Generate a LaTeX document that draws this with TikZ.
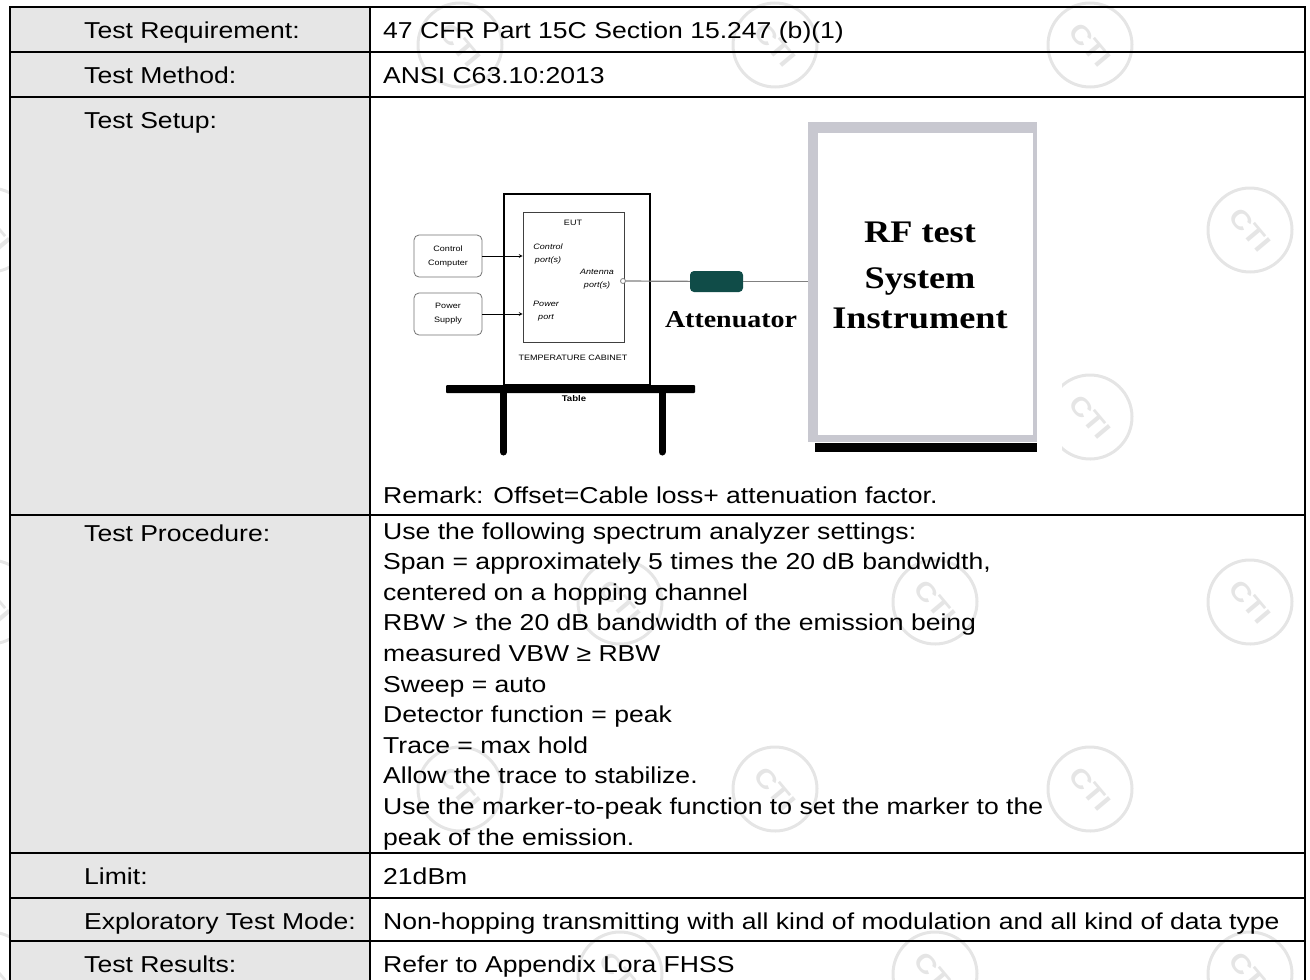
\documentclass[tikz,border=0pt]{standalone}
\usepackage{fontspec}
\setmainfont{Liberation Sans}[FakeStretch=1.155]
\newfontfamily\rffont{Liberation Serif}[FakeStretch=1.155]
\usetikzlibrary{arrows, positioning}
\definecolor{cellgrey}{RGB}{230,230,230}
\definecolor{framegrey}{RGB}{200,200,208}
\definecolor{atteal}{RGB}{16,76,72}
\definecolor{wiregrey}{RGB}{128,128,128}
\tikzstyle{rowtext} = [anchor=base west, inner sep=0pt, font=\fontsize{23}{30.6}\selectfont]
\tikzstyle{smalltext} = [inner sep=0pt, align=center, font=\fontsize{7.8}{13}\selectfont]
\tikzstyle{porttext} = [inner sep=0pt, align=center, font=\fontsize{7.8}{13}\selectfont\itshape]
\tikzstyle{unitbox} = [rectangle, rounded corners=5pt, draw=black!55, line width=0.8pt, minimum width=68pt, minimum height=42pt, inner sep=0pt, align=center, font=\fontsize{7.8}{14}\selectfont]
\tikzstyle{bigtext} = [anchor=base, inner sep=0pt, font=\rffont\bfseries\fontsize{31.4}{40}\selectfont]
\tikzstyle{watermark} = [circle, draw=black, draw opacity=0.1, text opacity=0.1, line width=3pt, minimum size=84pt, inner sep=0pt, rotate=-50, font=\bfseries\fontsize{26}{26}\selectfont]
\tikzstyle{arrow} = [line width=0.7pt,->,>=stealth]
\tikzstyle{wire} = [draw=wiregrey, line width=1.2pt]
\tikzstyle{gridline} = [line width=1.3pt]

\begin{document}
\begin{tikzpicture}[x=1pt, y=-1pt]
    \useasboundingbox (0,0) rectangle (1310,980);
    % CTI marks behind the page
    \foreach \x/\y [count=\i] in {460/45, 775/45, 1090/45, -10/230, 1250/230, 1090/417,
        -10/602, 620/602, 935/602, 1250/602, 460/789, 775/789, 1090/789,
        -10/974, 620/974, 935/974, 1250/974}
        \node (wm\i) [watermark] at (\x,\y) {CTI};
    \fill[cellgrey] (10,7) rectangle (370,980);
    \fill[white] (395,99) rectangle (1062,470);

    % table grid
    \draw[gridline] (10,980) -- (10,7) -- (1305,7) -- (1305,980);
    \draw[gridline] (370,7) -- (370,980);
    \foreach \y in {52,97,515,853,898,941}
        \draw[gridline] (10,\y) -- (1305,\y);

    \node (lreq) [rowtext] at (84,38) {Test Requirement:};
    \node (lmethod) [rowtext] at (84,83) {Test Method:};
    \node (lsetup) [rowtext] at (84,128) {Test Setup:};
    \node (lproc) [rowtext] at (84,541) {Test Procedure:};
    \node (llimit) [rowtext] at (84,884) {Limit:};
    \node (lmode) [rowtext] at (84,929) {Exploratory Test Mode:};
    \node (lresult) [rowtext] at (84,972) {Test Results:};

    \node (req) [rowtext] at (383,38) {47 CFR Part 15C Section 15.247 (b)(1)};
    \node (method) [rowtext] at (383,83) {ANSI C63.10:2013};
    \node (remark) [rowtext] at (383,503) {Remark: Offset=Cable loss+ attenuation factor.};
    \foreach \txt [count=\i from 0] in {Use the following spectrum analyzer settings:,
        {Span = approximately 5 times the 20 dB bandwidth,},
        centered on a hopping channel,
        RBW > the 20 dB bandwidth of the emission being,
        measured VBW ≥ RBW,
        Sweep = auto,
        Detector function = peak,
        Trace = max hold,
        Allow the trace to stabilize.,
        Use the marker-to-peak function to set the marker to the,
        peak of the emission.}
        \node (proc\i) [rowtext] at (383,539+30.6*\i) {\txt};
    \node (limit) [rowtext] at (383,884) {21dBm};
    \node (mode) [rowtext] at (383,929) {Non-hopping transmitting with all kind of modulation and all kind of data type};
    \node (result) [rowtext] at (383,972) {Refer to Appendix Lora FHSS};

    % test setup
    \fill[rounded corners=1pt] (446,385) rectangle (695,393);
    \draw[line width=7pt, line cap=round] (503.5,390) -- (503.5,452);
    \draw[line width=7pt, line cap=round] (662,390) -- (662,452);
    \node (tablelabel) [smalltext, font=\fontsize{8.3}{10}\selectfont\bfseries] at (574,399) {Table};

    \node (cabinet) [draw, line width=2.4pt, minimum width=146pt, minimum height=191pt, inner sep=0pt] at (577,289.5) {};
    \node (eut) [draw=black!75, line width=0.8pt, minimum width=101pt, minimum height=130pt, inner sep=0pt] at (573.5,277) {};
    \node (eutlabel) [smalltext] at (573,223) {EUT};
    \node (ctrlport) [porttext] at (548,253.5) {Control\\port(s)};
    \node (antlabel) [porttext] at (597,279.5) {Antenna\\port(s)};
    \node (pwrport) [porttext] at (546,311) {Power\\port};
    \node (cablabel) [smalltext] at (573,358) {TEMPERATURE CABINET};

    \node (ctrlpc) [unitbox] at (448,256) {Control\\Computer};
    \node (psu) [unitbox] at (448,314) {Power\\Supply};
    \draw [arrow] (ctrlpc) -- (ctrlpc -| eut.west);
    \draw [arrow] (psu) -- (psu -| eut.west);

    \node (rfsys) [rectangle, fill=framegrey, minimum width=229pt, minimum height=320pt, inner sep=0pt] at (922.5,282) {};
    \fill[white] (818,133) rectangle (1033,435);
    \fill (815,443) rectangle (1037,452);

    \node (antport) [circle, draw=wiregrey, fill=white, line width=0.8pt, minimum size=5pt, inner sep=0pt] at (623,281) {};
    \node (atten) [rectangle, rounded corners=4pt, fill=atteal, minimum width=53pt, minimum height=21pt, inner sep=0pt] at (716.5,281.5) {};
    \draw [wire] (antport) -- (atten);
    \draw [wire] (atten) -- (rfsys.west |- atten);

    \node (attlabel) [bigtext, font=\rffont\bfseries\fontsize{24.2}{30}\selectfont] at (731,327) {Attenuator};
    \node (rfline1) [bigtext] at (920,242) {RF test};
    \node (rfline2) [bigtext] at (920,288) {System};
    \node (rfline3) [bigtext] at (920,328) {Instrument};
\end{tikzpicture}
\end{document}
